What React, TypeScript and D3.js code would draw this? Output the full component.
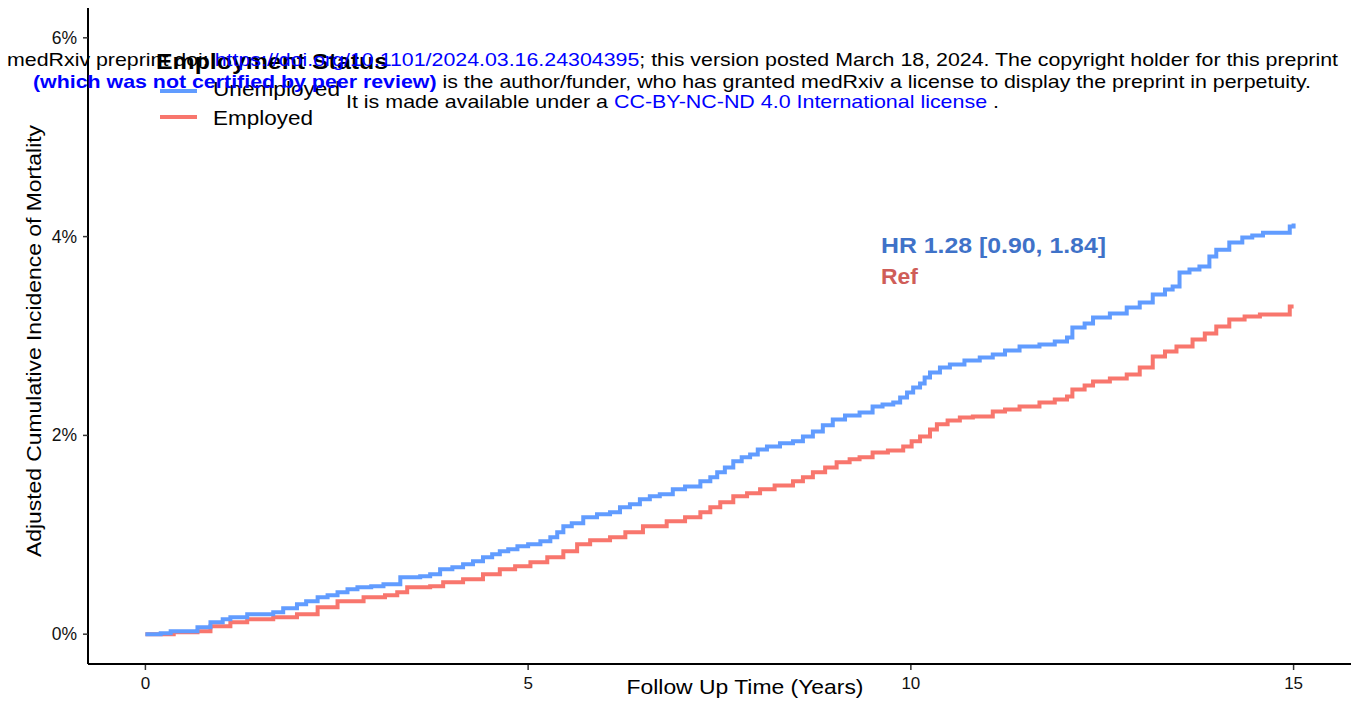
import React from 'react';
import * as d3 from 'd3';

const unemployedYears = [0,0.20,0.33,0.68,0.85,1.01,1.11,1.33,1.67,1.80,1.98,2.10,2.25,2.38,2.51,2.64,2.77,2.95,3.11,3.33,3.59,3.72,3.85,4.01,4.15,4.28,4.41,4.53,4.63,4.74,4.86,5.00,5.16,5.29,5.38,5.46,5.57,5.72,5.90,6.07,6.20,6.33,6.46,6.59,6.72,6.89,7.05,7.25,7.38,7.47,7.57,7.68,7.79,7.90,8.00,8.12,8.29,8.46,8.59,8.72,8.85,8.98,9.14,9.33,9.50,9.63,9.77,9.86,9.95,10.03,10.12,10.18,10.25,10.38,10.51,10.70,10.90,11.07,11.23,11.42,11.68,11.88,12.04,12.11,12.27,12.38,12.60,12.82,12.99,13.16,13.32,13.42,13.51,13.64,13.77,13.90,13.99,14.16,14.33,14.46,14.60,14.91,14.95,15.00];
const unemployedPct = [0,0.010,0.030,0.070,0.121,0.151,0.171,0.201,0.221,0.261,0.302,0.332,0.372,0.392,0.422,0.452,0.472,0.482,0.503,0.573,0.583,0.603,0.653,0.673,0.704,0.734,0.774,0.804,0.834,0.854,0.884,0.905,0.935,0.975,1.025,1.085,1.116,1.176,1.206,1.226,1.276,1.307,1.357,1.387,1.407,1.457,1.487,1.538,1.578,1.628,1.678,1.739,1.779,1.809,1.859,1.889,1.920,1.940,1.990,2.040,2.101,2.161,2.201,2.231,2.291,2.312,2.332,2.382,2.432,2.482,2.523,2.583,2.633,2.683,2.714,2.754,2.784,2.814,2.854,2.894,2.915,2.945,2.985,3.085,3.126,3.186,3.226,3.286,3.337,3.417,3.467,3.497,3.638,3.668,3.698,3.799,3.869,3.940,3.990,4.010,4.040,4.040,4.101,4.131];

const employedYears = [0,0.37,0.68,0.85,1.11,1.33,1.67,1.98,2.25,2.51,2.85,3.13,3.29,3.42,3.72,3.89,4.15,4.41,4.63,4.83,5.03,5.25,5.46,5.64,5.81,6.07,6.27,6.50,6.81,7.05,7.25,7.38,7.51,7.68,7.86,8.03,8.22,8.46,8.59,8.72,8.88,9.03,9.20,9.33,9.50,9.70,9.90,10.01,10.12,10.25,10.34,10.48,10.64,10.81,11.07,11.23,11.42,11.68,11.88,12.04,12.11,12.27,12.38,12.60,12.82,12.99,13.16,13.32,13.47,13.68,13.84,13.99,14.16,14.36,14.56,14.91,14.95,15.00];
const employedPct = [0,0.020,0.030,0.080,0.121,0.151,0.171,0.201,0.271,0.332,0.372,0.392,0.422,0.472,0.482,0.523,0.553,0.603,0.653,0.683,0.724,0.774,0.834,0.905,0.945,0.975,1.025,1.085,1.136,1.176,1.226,1.276,1.327,1.387,1.417,1.457,1.497,1.538,1.578,1.628,1.678,1.729,1.759,1.779,1.829,1.849,1.889,1.940,1.990,2.060,2.111,2.151,2.181,2.191,2.241,2.261,2.291,2.332,2.362,2.392,2.462,2.503,2.543,2.573,2.613,2.683,2.794,2.844,2.894,2.965,3.025,3.095,3.166,3.196,3.216,3.216,3.296,3.296];

const xTicks = [0, 5, 10, 15];
const yTicks = [0, 2, 4, 6];
const seriesNames = ['Unemployed', 'Employed'];
const seriesColors = ['#619CFF', '#F8766D'];
const legendTitle = 'Employment Status';
const hrLabel = 'HR 1.28 [0.90, 1.84]';
const refLabel = 'Ref';

const FONT = '"Liberation Sans", Arial, Helvetica, sans-serif';

export default function App() {
  const x = d3.scaleLinear().domain([-0.75, 15.75]).range([88, 1351]);
  const y = d3.scaleLinear().domain([-0.3, 6.3]).range([664, 8]);
  const line = d3
    .line<[number, number]>()
    .x((d) => x(d[0]))
    .y((d) => y(d[1]))
    .curve(d3.curveStepAfter);

  const unemp: [number, number][] = unemployedYears.map((t, i) => [t, unemployedPct[i]]);
  const emp: [number, number][] = employedYears.map((t, i) => [t, employedPct[i]]);

  return (
    <svg
      width={1362}
      height={704}
      style={{ position: 'absolute', left: 0, top: 0, background: '#fff' }}
      fontFamily={FONT}
    >
      <rect x={0} y={0} width={1362} height={704} fill="#fff" />
      {/* axes */}
      <line x1={88} x2={88} y1={y(6.3)} y2={y(-0.3)} stroke="#000" strokeWidth={2} />
      <line x1={88} x2={1351} y1={y(-0.3)} y2={y(-0.3)} stroke="#000" strokeWidth={2} />
      {yTicks.map((v) => (
        <g key={'y' + v}>
          <line x1={83} x2={88} y1={y(v)} y2={y(v)} stroke="#333" strokeWidth={1.5} />
          <text x={77} y={y(v) + 6} textAnchor="end" fontSize={17.5} fill="#111">
            {v + '%'}
          </text>
        </g>
      ))}
      {xTicks.map((v) => (
        <g key={'x' + v}>
          <line x1={x(v)} x2={x(v)} y1={665} y2={670} stroke="#333" strokeWidth={1.5} />
          <text x={x(v)} y={689} textAnchor="middle" fontSize={17} fill="#111">
            {String(v)}
          </text>
        </g>
      ))}
      <text x={745} y={694} textAnchor="middle" fontSize={21} textLength={237} lengthAdjust="spacingAndGlyphs" fill="#000">
        Follow Up Time (Years)
      </text>
      <text
        transform={`translate(41,341) rotate(-90)`}
        textAnchor="middle"
        fontSize={21}
        textLength={432}
        lengthAdjust="spacingAndGlyphs"
        fill="#000"
      >
        Adjusted Cumulative Incidence of Mortality
      </text>

      {/* curves */}
      <path d={line(emp) || ''} fill="none" stroke={seriesColors[1]} strokeWidth={4} />
      <path d={line(unemp) || ''} fill="none" stroke={seriesColors[0]} strokeWidth={4} />

      {/* annotations */}
      <text x={881} y={253} fontSize={22.5} fontWeight="bold" fill="#3F72C8" textLength={225} lengthAdjust="spacingAndGlyphs">
        {hrLabel}
      </text>
      <text x={881} y={284} fontSize={22.5} fontWeight="bold" fill="#CF5D58" textLength={37} lengthAdjust="spacingAndGlyphs">
        {refLabel}
      </text>

      {/* legend */}
      <text x={156} y={69} fontSize={22.5} fontWeight="bold" fill="#000" textLength={232} lengthAdjust="spacingAndGlyphs">
        {legendTitle}
      </text>
      {seriesNames.map((n, i) => (
        <g key={n}>
          <line x1={160} x2={197} y1={91 + i * 26} y2={91 + i * 26} stroke={seriesColors[i]} strokeWidth={4} />
          <text
            x={213}
            y={96 + i * 29}
            fontSize={21}
            fill="#000"
            textLength={i === 0 ? 127 : 100}
            lengthAdjust="spacingAndGlyphs"
          >
            {n}
          </text>
        </g>
      ))}

      {/* medRxiv overlay */}
      <text x={7} y={66} fontSize={18.5} fill="#000" textLength={1331} lengthAdjust="spacingAndGlyphs">
        <tspan>medRxiv preprint doi: </tspan>
        <tspan fill="#0000ff">https://doi.org/10.1101/2024.03.16.24304395</tspan>
        <tspan>; this version posted March 18, 2024. The copyright holder for this preprint</tspan>
      </text>
      <text x={33} y={88} fontSize={18.5} fill="#000" textLength={1278} lengthAdjust="spacingAndGlyphs">
        <tspan fill="#0000ff" fontWeight="bold">(which was not certified by peer review)</tspan>
        <tspan> is the author/funder, who has granted medRxiv a license to display the preprint in perpetuity.</tspan>
      </text>
      <text x={346} y={108} fontSize={18.5} fill="#000" textLength={653} lengthAdjust="spacingAndGlyphs">
        <tspan>It is made available under a </tspan>
        <tspan fill="#0000ff">CC-BY-NC-ND 4.0 International license</tspan>
        <tspan> .</tspan>
      </text>
    </svg>
  );
}
